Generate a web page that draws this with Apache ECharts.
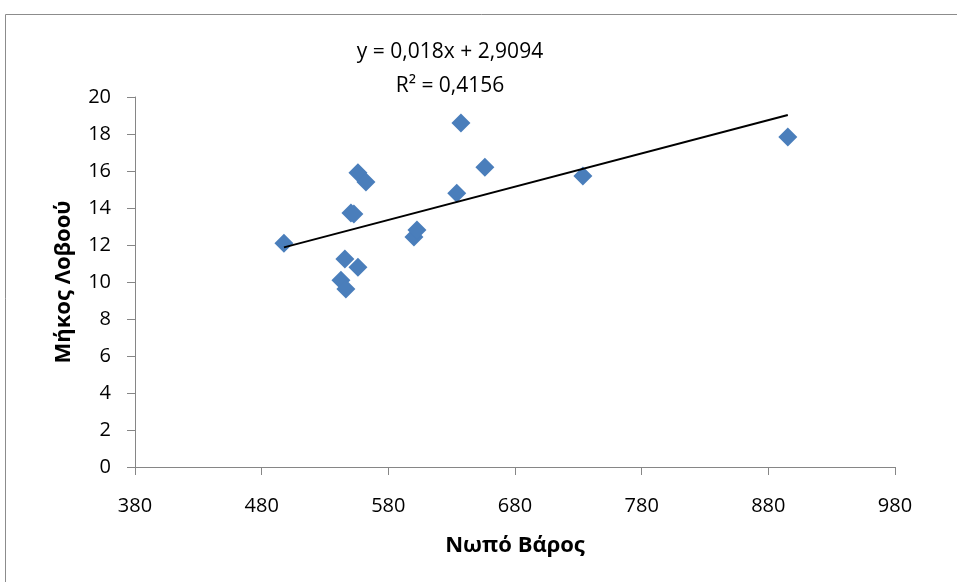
<!DOCTYPE html>
<html>
<head>
<meta charset="utf-8">
<script src="https://cdn.jsdelivr.net/npm/echarts@6/dist/echarts.min.js"></script>
<style>html,body{margin:0;padding:0;background:#fff;}#c{width:957px;height:582px;}</style>
</head>
<body>
<div id="c"></div>
<script>
// Data
const weightX = [497.6, 545.7, 542.6, 546.5, 556.0, 550.5, 552.8, 556.0, 562.3, 600.2, 602.6, 634.0, 637.3, 656.2, 733.6, 895.4];
const lengthY = [12.1, 11.24, 10.1, 9.62, 10.8, 13.73, 13.68, 15.9, 15.4, 12.43, 12.81, 14.8, 18.6, 16.2, 15.73, 17.84];
const trendX = [497.6, 895.4];
const trendY = [11.87, 19.03];
const xTicks = [380, 480, 580, 680, 780, 880, 980];
const yTicks = [0, 2, 4, 6, 8, 10, 12, 14, 16, 18, 20];
const equationText = 'y = 0,018x + 2,9094';
const r2Text = 'R² = 0,4156';
const xTitle = 'Νωπό Βάρος';
const yTitle = 'Μήκος Λοβοού';

const FONT = '"Open Sans", "Noto Sans", sans-serif';
const chart = echarts.init(document.getElementById('c'), null, {renderer: 'canvas'});
const scatterData = weightX.map((x, i) => [x, lengthY[i]]);
const trendData = trendX.map((x, i) => [x, trendY[i]]);
const axisGray = '#868686';

chart.setOption({
  animation: false,
  backgroundColor: '#fff',
  graphic: [
    {type: 'rect', shape: {x: 5.5, y: 14.5, width: 1000, height: 1000}, style: {fill: 'none', stroke: '#8c8c8c', lineWidth: 1}, z: -10},
    {type: 'text', style: {text: equationText, x: 450, y: 52, textAlign: 'center', textVerticalAlign: 'middle', font: '21px ' + FONT, fill: '#000'}},
    {type: 'text', style: {text: r2Text, x: 450, y: 86, textAlign: 'center', textVerticalAlign: 'middle', font: '21px ' + FONT, fill: '#000'}}
  ],
  grid: {left: 135, right: 62, top: 97, bottom: 115, containLabel: false},
  xAxis: {
    type: 'value', min: xTicks[0], max: xTicks[xTicks.length - 1], interval: 100,
    name: xTitle, nameLocation: 'middle', nameGap: 68,
    nameTextStyle: {fontFamily: FONT, fontSize: 22, fontWeight: 'bold', color: '#000'},
    axisLine: {show: true, onZero: false, lineStyle: {color: axisGray, width: 1}},
    axisTick: {show: true, inside: false, length: 8, lineStyle: {color: axisGray}},
    axisLabel: {fontFamily: FONT, fontSize: 20, color: '#000', margin: 29},
    splitLine: {show: false}
  },
  yAxis: {
    type: 'value', min: yTicks[0], max: yTicks[yTicks.length - 1], interval: 2,
    name: yTitle, nameLocation: 'middle', nameGap: 60, nameRotate: 90,
    nameTextStyle: {fontFamily: FONT, fontSize: 22, fontWeight: 'bold', color: '#000'},
    axisLine: {show: true, lineStyle: {color: axisGray, width: 1}},
    axisTick: {show: true, inside: false, length: 8, lineStyle: {color: axisGray}},
    axisLabel: {fontFamily: FONT, fontSize: 20, color: '#000', margin: 24},
    splitLine: {show: false}
  },
  series: [
    {
      type: 'scatter', data: scatterData, symbol: 'diamond', symbolSize: 19,
      itemStyle: {color: '#4A7EBB', opacity: 1}, z: 2
    },
    {
      type: 'line', data: trendData, symbol: 'none', lineStyle: {color: '#000', width: 2}, z: 3
    }
  ]
});
</script>
</body>
</html>
